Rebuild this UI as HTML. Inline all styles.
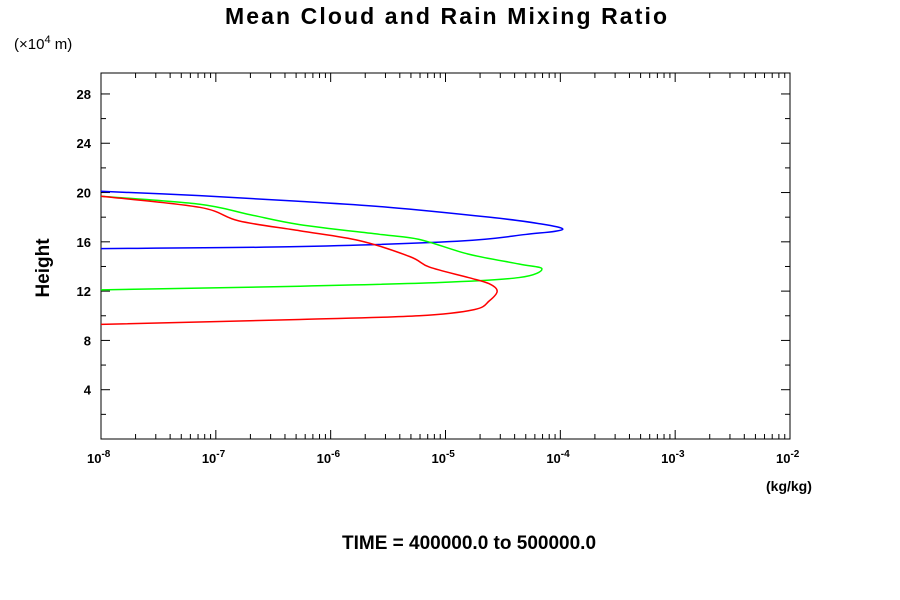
<!DOCTYPE html>
<html><head><meta charset="utf-8"><style>
body{margin:0;background:#fff;}
svg{display:block;font-family:"Liberation Sans",sans-serif;}
</style></head><body>
<svg id="chart" width="900" height="600" viewBox="0 0 900 600">
<text x="446" y="24" text-anchor="middle" font-size="23" font-weight="bold" textLength="442">Mean Cloud and Rain Mixing Ratio</text>
<text x="14" y="49" font-size="15">(×10<tspan dy="-6" font-size="11">4</tspan><tspan dy="6"> m)</tspan></text>
<text transform="translate(49,268) rotate(-90)" text-anchor="middle" font-size="19" font-weight="bold">Height</text>
<text x="766" y="491" font-size="14" font-weight="bold">(kg/kg)</text>
<text x="469" y="549" text-anchor="middle" font-size="19" font-weight="bold">TIME = 400000.0 to 500000.0</text>
<rect x="101" y="73" width="689" height="366" fill="none" stroke="#000" stroke-width="1"/>
<g id="axes"></g>
<g id="series"></g>
</svg>
<script>
const yTicks=[4,8,12,16,20,24,28];
const xDecades=[-8,-7,-6,-5,-4,-3,-2];
const blueLog=[-8,-7.14,-6.3,-5.49,-4.62,-4.2,-3.98,-4.3,-4.9,-6.36,-8];
const blueH=[20.1,19.75,19.3,18.8,18.0,17.5,17.0,16.6,16.05,15.6,15.45];
const greenLog=[-8,-7.14,-6.7,-6.27,-5.57,-5.23,-4.8,-4.36,-4.16,-4.36,-5.05,-6.27,-8];
const greenH=[19.7,19.05,18.2,17.4,16.6,16.2,15.0,14.2,13.8,13.1,12.7,12.4,12.1];
const redLog=[-8,-7.14,-6.8,-6.27,-5.75,-5.31,-5.14,-4.8,-4.62,-4.55,-4.62,-4.75,-5.23,-6.27,-8];
const redH=[19.7,18.8,17.7,16.9,16.1,14.8,13.95,13.1,12.6,12.0,11.2,10.5,10.0,9.7,9.3];
const X0=101,X1=790,Y0=439,Y1=73,LMIN=-8,LMAX=-2,HMIN=0,HMAX=29.7;
const sx=l=>X0+(l-LMIN)/(LMAX-LMIN)*(X1-X0);
const sy=h=>Y0-(h-HMIN)/(HMAX-HMIN)*(Y0-Y1);
const NS="http://www.w3.org/2000/svg";
const axes=document.getElementById('axes'),ser=document.getElementById('series');
function mk(t,a,p){const e=document.createElementNS(NS,t);for(const k in a)e.setAttribute(k,a[k]);p.appendChild(e);return e;}
for(let h=2;h<HMAX;h+=2){
 const major=yTicks.includes(h),len=major?9:5,y=sy(h);
 const t1=mk('line',{x1:X0,x2:X0+len,y1:y,y2:y,stroke:'#000'},axes);
 
 
 const t2=mk('line',{x1:X1,x2:X1-len,y1:y,y2:y,stroke:'#000'},axes);
 
 
 if(major){const tx=mk('text',{x:91,y:y+5,'text-anchor':'end','font-size':13,'font-weight':'bold'},axes);tx.textContent=h;
 
 }
}
xDecades.forEach((d,i)=>{
 const x=sx(d);
 const tl=mk('line',{x1:x,x2:x,y1:Y0,y2:Y0-9,stroke:'#000'},axes);
 
 
 const tt=mk('line',{x1:x,x2:x,y1:Y1,y2:Y1+9,stroke:'#000'},axes);
 
 
 const tx=mk('text',{x:x-14,y:463,'font-size':13,'font-weight':'bold'},axes);
 
 
 tx.innerHTML='10<tspan dy="-6" font-size="10">'+d+'</tspan>';
 if(i<xDecades.length-1){for(let m=2;m<10;m++){const xm=sx(d+Math.log10(m));
  const a=mk('line',{x1:xm,x2:xm,y1:Y0,y2:Y0-5,stroke:'#000'},axes);
  
  
  const b=mk('line',{x1:xm,x2:xm,y1:Y1,y2:Y1+5,stroke:'#000'},axes);
  
  }}
});
function line(L,H,c,name){
 const pts=L.map((l,i)=>[sx(l),sy(H[i])]);
 let d='M'+pts[0][0]+','+pts[0][1];
 for(let i=0;i<pts.length-1;i++){
  const p0=pts[Math.max(0,i-1)],p1=pts[i],p2=pts[i+1],p3=pts[Math.min(pts.length-1,i+2)];
  const c1=[p1[0]+(p2[0]-p0[0])/6,p1[1]+(p2[1]-p0[1])/6];
  const c2=[p2[0]-(p3[0]-p1[0])/6,p2[1]-(p3[1]-p1[1])/6];
  d+=' C'+c1[0]+','+c1[1]+' '+c2[0]+','+c2[1]+' '+p2[0]+','+p2[1];
 }
 const p=mk('path',{d:d,fill:'none',stroke:c,'stroke-width':1.5},ser);
 
 
}
line(blueLog,blueH,'#0000ff','series-blue');
line(greenLog,greenH,'#00ff00','series-green');
line(redLog,redH,'#ff0000','series-red');
</script>
</body></html>
